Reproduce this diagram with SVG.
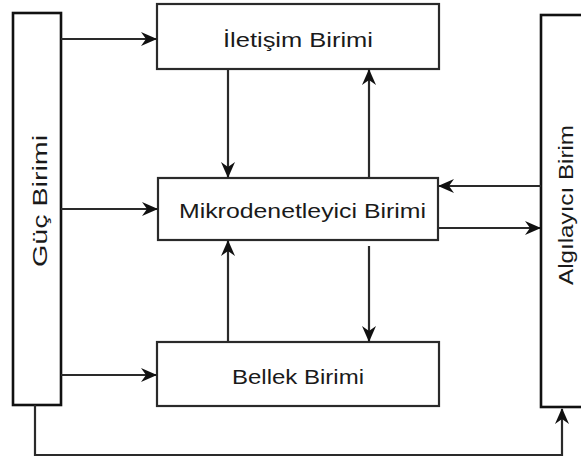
<svg xmlns="http://www.w3.org/2000/svg" width="581" height="461" viewBox="0 0 581 461">
  <style>
    .box { fill: #ffffff; stroke: #2a2a2a; stroke-width: 2.2; }
    .side { fill: #ffffff; stroke: #111111; stroke-width: 2.6; }
    .lbl { font-family: "Liberation Sans", Arial, sans-serif; font-size: 21px; fill: #1a1a1a; }
    .wire { fill: none; stroke: #2a2a2a; stroke-width: 2.2; }
  </style>
  <defs>
    <marker id="arrow" viewBox="0 0 16 16" refX="15" refY="8" markerWidth="16" markerHeight="16" markerUnits="userSpaceOnUse" orient="auto">
      <path d="M0,1 L16,8 L0,15 L5,8 Z" fill="#111111"/>
    </marker>
  </defs>
  <rect width="581" height="461" fill="#ffffff"/>

  <g id="guc">
    <rect class="side" x="13" y="13" width="48" height="392"/>
    <text class="lbl" transform="translate(47,201) rotate(-90)" text-anchor="middle" textLength="132" lengthAdjust="spacingAndGlyphs">Güç Birimi</text>
  </g>

  <g id="algilayici">
    <rect class="side" x="541" y="15" width="60" height="392"/>
    <text class="lbl" transform="translate(573,205) rotate(-90)" text-anchor="middle" textLength="160" lengthAdjust="spacingAndGlyphs">Algılayıcı Birim</text>
  </g>

  <g id="iletisim">
    <rect class="box" x="157" y="4" width="282" height="65"/>
    <text class="lbl" x="298" y="47" text-anchor="middle" textLength="150" lengthAdjust="spacingAndGlyphs">İletişim Birimi</text>
  </g>

  <g id="mikrodenetleyici">
    <rect class="box" x="158" y="178" width="280" height="62"/>
    <text class="lbl" x="302.5" y="218" text-anchor="middle" textLength="247" lengthAdjust="spacingAndGlyphs">Mikrodenetleyici Birimi</text>
  </g>

  <g id="bellek">
    <rect class="box" x="157" y="342" width="282" height="64"/>
    <text class="lbl" x="298" y="384" text-anchor="middle" textLength="132" lengthAdjust="spacingAndGlyphs">Bellek Birimi</text>
  </g>

  <g id="connectors">
    <!-- power feeds -->
    <line class="wire" x1="61" y1="39" x2="156" y2="39" marker-end="url(#arrow)"/>
    <line class="wire" x1="61" y1="209" x2="157" y2="209" marker-end="url(#arrow)"/>
    <line class="wire" x1="61" y1="375" x2="156" y2="375" marker-end="url(#arrow)"/>
    <polyline class="wire" points="35,405 35,455 562,455 562,409" marker-end="url(#arrow)"/>
    <!-- communication <-> microcontroller -->
    <line class="wire" x1="228" y1="69" x2="228" y2="177" marker-end="url(#arrow)"/>
    <line class="wire" x1="369" y1="178" x2="369" y2="70" marker-end="url(#arrow)"/>
    <!-- memory <-> microcontroller -->
    <line class="wire" x1="228" y1="342" x2="228" y2="241" marker-end="url(#arrow)"/>
    <line class="wire" x1="369" y1="246" x2="369" y2="341" marker-end="url(#arrow)"/>
    <!-- sensor <-> microcontroller -->
    <line class="wire" x1="541" y1="186" x2="439" y2="186" marker-end="url(#arrow)"/>
    <line class="wire" x1="438" y1="228" x2="540" y2="228" marker-end="url(#arrow)"/>
  </g>
</svg>
